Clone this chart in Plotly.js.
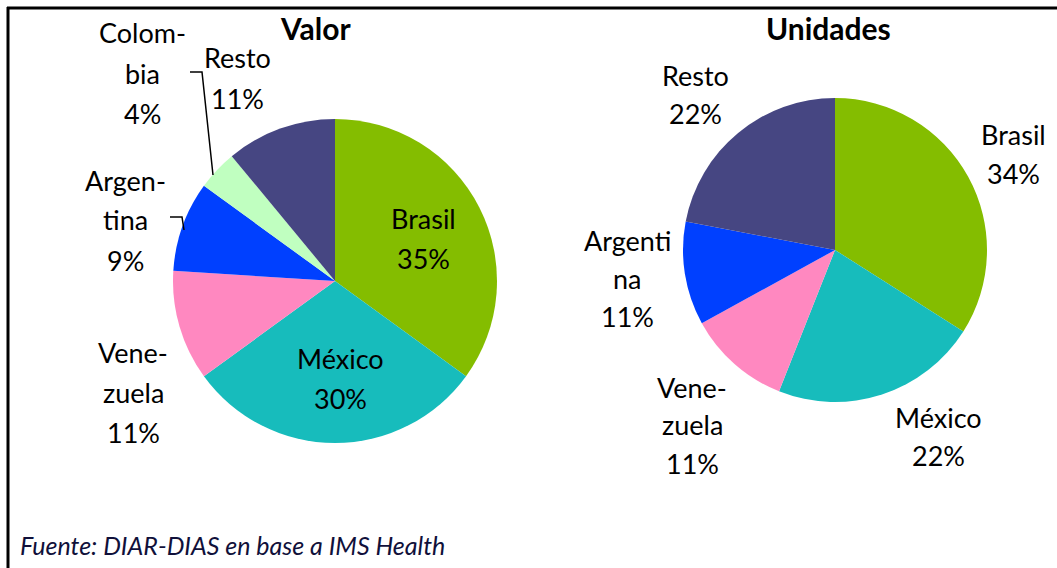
<!DOCTYPE html>
<html>
<head>
<meta charset="utf-8">
<script src="https://cdn.plot.ly/plotly-3.0.1.min.js"></script>
<style>
  html, body { margin: 0; padding: 0; background: #fff; }
  #myDiv { width: 1057px; height: 568px; }
</style>
</head>
<body>
<div id="myDiv"></div>
<script>
var W = 1057, H = 568

// data
var valorLabels = ['Brasil', 'México', 'Venezuela', 'Argentina', 'Colombia', 'Resto']
var valorShares = [35, 30, 11, 9, 4, 11]
var unidLabels = ['Brasil', 'México', 'Venezuela', 'Argentina', 'Resto']
var unidShares = [34, 22, 11, 11, 22]

// how the names are broken on the picture
var valorNames = ['Brasil', 'México', 'Vene-<br>zuela', 'Argen-<br>tina', 'Colom-<br>bia', 'Resto']
var unidNames = ['Brasil', 'México', 'Vene-<br>zuela', 'Argenti<br>na', 'Resto']

var colors = {
    'Brasil': '#84bd00',
    'México': '#17bcbc',
    'Venezuela': '#ff88c0',
    'Argentina': '#0040ff',
    'Colombia': '#c0ffc0',
    'Resto': '#464682'
}

// label anchor (px of first line) and line step
var valorPos = [[423, 218], [340, 358], [133, 352], [125, 180], [142, 33], [237, 58]]
var unidPos = [[1013, 135], [938, 417], [692, 387], [627, 240], [695, 75]]

var font = 'Lato, "Open Sans", sans-serif'

function px(x) { return x / W }
function py(y) { return 1 - y / H }

function pieTrace(labels, values, dom) {
    return {
        type: 'pie',
        labels: labels,
        values: values,
        sort: false,
        direction: 'clockwise',
        rotation: 0,
        textinfo: 'none',
        hoverinfo: 'label+percent',
        marker: {
            colors: labels.map(function (l) { return colors[l] }),
            line: { width: 0 }
        },
        domain: dom,
        showlegend: false
    }
}

var trace1 = pieTrace(valorLabels, valorShares,
    { x: [px(173), px(497)], y: [py(443), py(119)] })
var trace2 = pieTrace(unidLabels, unidShares,
    { x: [px(683), px(987)], y: [py(402), py(98)] })

var annotations = []

function addLabels(names, values, pos, step) {
    names.forEach(function (n, i) {
        var lines = n.split('<br>').concat([values[i] + '%'])
        lines.forEach(function (t, j) {
            annotations.push({
                xref: 'paper', yref: 'paper',
                x: px(pos[i][0]), y: py(pos[i][1] + j * step),
                text: t, showarrow: false,
                xanchor: 'center', yanchor: 'middle',
                font: { family: font, size: 27, color: '#000' }
            })
        })
    })
}
addLabels(valorNames, valorShares, valorPos, 40)
addLabels(unidNames, unidShares, unidPos, 38)

annotations.push({
    xref: 'paper', yref: 'paper', x: px(315), y: py(28),
    text: '<b>Valor</b>', showarrow: false, xanchor: 'center', yanchor: 'middle',
    font: { family: font, size: 30, color: '#000' }
})
annotations.push({
    xref: 'paper', yref: 'paper', x: px(828), y: py(28),
    text: '<b>Unidades</b>', showarrow: false, xanchor: 'center', yanchor: 'middle',
    font: { family: font, size: 30, color: '#000' }
})
annotations.push({
    xref: 'paper', yref: 'paper', x: px(18), y: py(545),
    text: '<i>Fuente: DIAR-DIAS en base a IMS Health</i>', showarrow: false,
    xanchor: 'left', yanchor: 'middle',
    font: { family: font, size: 25, color: '#10103a' }
})

var shapes = [
    // frame (top and left only)
    { type: 'line', xref: 'paper', yref: 'paper', x0: px(7), x1: 1, y0: py(8), y1: py(8),
      line: { color: '#000', width: 3 } },
    { type: 'line', xref: 'paper', yref: 'paper', x0: px(8), x1: px(8), y0: py(7), y1: 0,
      line: { color: '#000', width: 3 } },
    // leader lines
    { type: 'path', xref: 'paper', yref: 'paper',
      path: 'M ' + px(190) + ' ' + py(72) + ' L ' + px(202) + ' ' + py(72) + ' L ' + px(213) + ' ' + py(175),
      line: { color: '#000', width: 1.5 } },
    { type: 'path', xref: 'paper', yref: 'paper',
      path: 'M ' + px(170) + ' ' + py(217) + ' L ' + px(182) + ' ' + py(217) + ' L ' + px(184) + ' ' + py(230),
      line: { color: '#000', width: 1.5 } }
]

var layout = {
    width: W,
    height: H,
    margin: { l: 0, r: 0, t: 0, b: 0 },
    paper_bgcolor: '#fff',
    showlegend: false,
    annotations: annotations,
    shapes: shapes
}

Plotly.newPlot('myDiv', [trace1, trace2], layout, { displayModeBar: false })
</script>
</body>
</html>
